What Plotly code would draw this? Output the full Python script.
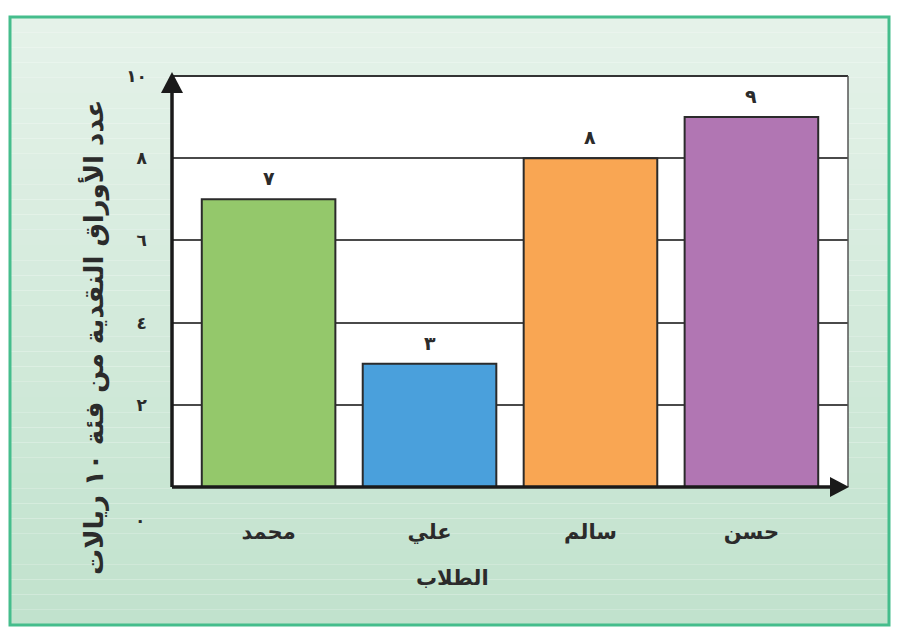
import plotly.graph_objects as go

students = ["محمد", "علي", "سالم", "حسن"]
counts = [7, 3, 8, 9]
count_labels = ["٧", "٣", "٨", "٩"]
bar_colors = ["#94c86b", "#4aa0dc", "#f9a653", "#b176b3"]
y_tick_vals = [2, 4, 6, 8, 10]
y_tick_text = ["٢", "٤", "٦", "٨", "١٠"]
zero_label = "٠"
y_title = "عدد الأوراق النقدية من فئة ١٠ ريالات"
x_title = "الطلاب"

FONT = "DejaVu Sans"
OFF = 8  # page body margin
W, H = 899 - 2 * OFF, 635 - 2 * OFF
L, T = 172 - OFF, 76 - OFF
R = W - (848 - OFF)
B = H - (487 - OFF)
PW, PH = W - L - R, H - T - B


def px_x(x):  # page pixel -> paper x
    return (x - OFF - L) / PW


def px_y(y):  # page pixel -> paper y
    return (H - B - (y - OFF)) / PH


fig = go.Figure()
fig.add_trace(go.Bar(
    x=list(range(len(students))), y=counts,
    marker=dict(color=bar_colors, line=dict(color="#2b2b2b", width=2)),
    width=0.83, hoverinfo="skip",
))

BX0, BX1, BY0, BY1 = 10, 889, 17, 625
shapes = []
n = 40
top_c = (229, 242, 233)
bot_c = (193, 226, 205)
for i in range(n):
    f = i / (n - 1)
    c = tuple(round(top_c[k] + (bot_c[k] - top_c[k]) * f) for k in range(3))
    ya = BY0 + (BY1 - BY0) * i / n
    yb = BY0 + (BY1 - BY0) * (i + 1) / n
    shapes.append(dict(type="rect", xref="paper", yref="paper",
                       x0=px_x(BX0), x1=px_x(BX1), y0=px_y(yb), y1=px_y(ya),
                       fillcolor="rgb(%d,%d,%d)" % c, line=dict(width=0), layer="below"))
shapes.append(dict(type="rect", xref="paper", yref="paper",
                   x0=px_x(BX0), x1=px_x(BX1), y0=px_y(BY1), y1=px_y(BY0),
                   line=dict(color="#45bd8c", width=3), layer="below"))
shapes.append(dict(type="rect", xref="paper", yref="paper", x0=0, x1=1, y0=0, y1=1,
                   fillcolor="white", line=dict(width=0), layer="below"))
shapes.append(dict(type="line", xref="paper", yref="paper", x0=0, x1=1, y0=1, y1=1,
                   line=dict(color="#333333", width=2)))
shapes.append(dict(type="line", xref="paper", yref="paper", x0=1, x1=1, y0=0, y1=1,
                   line=dict(color="#555555", width=1.5)))
shapes.append(dict(type="line", xref="paper", yref="paper", x0=0, x1=0.985, y0=0, y1=0,
                   line=dict(color="#1a1a1a", width=3.5)))
shapes.append(dict(type="line", xref="paper", yref="paper", x0=0, x1=0, y0=0, y1=0.97,
                   line=dict(color="#1a1a1a", width=3.5)))
shapes.append(dict(type="path", xref="paper", yref="paper", xsizemode="pixel", ysizemode="pixel",
                   xanchor=0, yanchor=1, path="M -11 -17 L 11 -17 L 0 4 Z",
                   fillcolor="#1a1a1a", line=dict(width=0)))
shapes.append(dict(type="path", xref="paper", yref="paper", xsizemode="pixel", ysizemode="pixel",
                   xanchor=1, yanchor=0, path="M -18 -10 L -18 10 L 1 0 Z",
                   fillcolor="#1a1a1a", line=dict(width=0)))

annotations = []
for i, (v, t) in enumerate(zip(counts, count_labels)):
    annotations.append(dict(x=i, y=v, xref="x", yref="y", text=t, showarrow=False,
                            yanchor="bottom", yshift=8,
                            font=dict(family=FONT, size=19, color="#2b2b2b", weight="bold")))
annotations.append(dict(x=0, y=0, xref="paper", yref="y", text=zero_label, showarrow=False,
                        xanchor="center", xshift=-32, yshift=-33,
                        font=dict(family=FONT, size=17, color="#2b2b2b", weight="bold")))
annotations.append(dict(x=px_x(76), y=px_y(338), xref="paper", yref="paper",
                        text=y_title, showarrow=False, textangle=-90,
                        font=dict(family=FONT, size=26, color="#2b2b2b", weight="bold")))
annotations.append(dict(x=px_x(452), y=px_y(592), xref="paper", yref="paper",
                        text=x_title, showarrow=False,
                        font=dict(family=FONT, size=21, color="#2b2b2b", weight="bold")))

fig.update_layout(
    width=W, height=H,
    margin=dict(l=L, r=R, t=T, b=B),
    paper_bgcolor="white", plot_bgcolor="rgba(0,0,0,0)",
    showlegend=False,
    shapes=shapes, annotations=annotations,
    xaxis=dict(range=[-0.6, 3.6], tickvals=list(range(len(students))), ticktext=students,
               showgrid=False, zeroline=False, showline=False, ticks="",
               ticklabelstandoff=30,
               tickfont=dict(family=FONT, size=21, color="#2b2b2b", weight="bold")),
    yaxis=dict(range=[0, 10], tickvals=y_tick_vals, ticktext=y_tick_text,
               showgrid=True, gridcolor="#4a4a4a", gridwidth=2, zeroline=False,
               showline=False, ticks="", ticklabelstandoff=24,
               tickfont=dict(family=FONT, size=17, color="#2b2b2b", weight="bold")),
)

fig.write_html("out.html")
